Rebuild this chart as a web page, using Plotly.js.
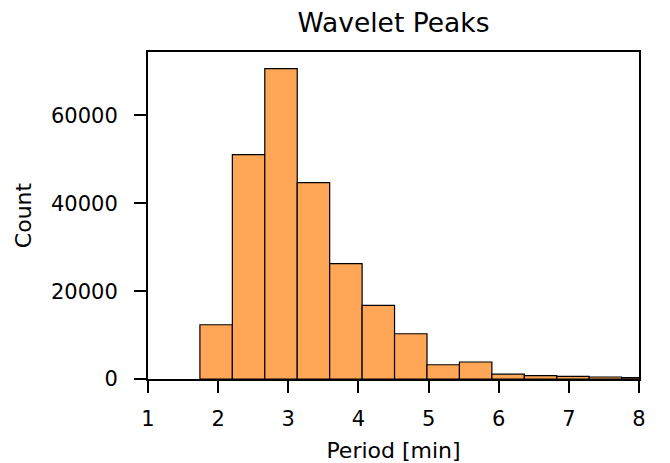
<!DOCTYPE html>
<html>
<head>
<meta charset="utf-8">
<script src="https://cdn.plot.ly/plotly-3.0.1.min.js"></script>
<style>html,body{margin:0;padding:0;background:#fff;}#chart{width:670px;height:463px;}</style>
</head>
<body>
<div id="chart"></div>
<script>
// Histogram bins (period in minutes) and counts
const binStart = 1.74;
const binWidth = 0.4625;
const counts = [12350, 51100, 70650, 44700, 26250, 16750, 10300, 3250, 3870, 1100, 750, 600, 450, 300];
const xTicks = [1, 2, 3, 4, 5, 6, 7, 8];
const yTicks = [0, 20000, 40000, 60000];

const centers = counts.map((_, i) => binStart + binWidth * (i + 0.5));

const font = "DejaVu Sans";
const trace = {
  type: 'bar',
  x: centers,
  y: counts,
  width: binWidth,
  marker: {color: '#ffa657', line: {color: '#000', width: 1.2}},
  hoverinfo: 'x+y'
};
const layout = {
  width: 670, height: 463,
  margin: {l: 148, r: 31, t: 52, b: 84},
  paper_bgcolor: '#fff', plot_bgcolor: '#fff',
  font: {family: font, color: '#000', size: 21},
  showlegend: false,
  bargap: 0,
  title: {text: 'Wavelet Peaks', x: 0.5, xref: 'paper', xanchor: 'center', y: 0.951, yref: 'container', yanchor: 'middle', font: {family: font, size: 26.5, color: '#000'}},
  xaxis: {
    range: [1, 8], tickmode: 'array', tickvals: xTicks, ticktext: xTicks.map(String),
    showgrid: false, zeroline: false, automargin: false,
    showline: true, linecolor: '#000', linewidth: 2, mirror: true,
    ticks: 'outside', ticklen: 12, tickwidth: 2, tickcolor: '#000',
    ticklabelstandoff: 8,
    tickfont: {family: font, size: 21, color: '#000'},
    title: {text: 'Period [min]', standoff: 14, font: {family: font, size: 22, color: '#000'}}
  },
  yaxis: {
    range: [0, 74450], tickmode: 'array', tickvals: yTicks, ticktext: yTicks.map(String),
    showgrid: false, zeroline: false, automargin: false,
    showline: true, linecolor: '#000', linewidth: 2, mirror: true,
    ticks: 'outside', ticklen: 12, tickwidth: 2, tickcolor: '#000',
    ticklabelstandoff: 12,
    tickfont: {family: font, size: 21, color: '#000'},
    title: {text: 'Count', standoff: 13, font: {family: font, size: 22, color: '#000'}}
  }
};
Plotly.newPlot('chart', [trace], layout, {displayModeBar: false, staticPlot: true});
</script>
</body>
</html>
